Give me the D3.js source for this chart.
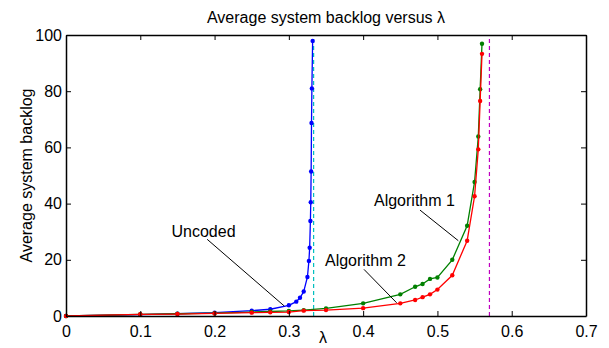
<!DOCTYPE html>
<html>
<head>
<meta charset="utf-8">
<script src="https://cdn.jsdelivr.net/npm/d3@7"></script>
<style>
  body { margin: 0; background: #fff; }
  svg text { font-family: "Liberation Sans", Arial, sans-serif; fill: #000; }
</style>
</head>
<body>
<svg id="chart" width="609" height="348"></svg>
<script>
const width = 609;
const height = 348;
const margin = { top: 35, right: 23, bottom: 32, left: 66 };

// lambda values for each curve
const uncodedX = [0, 0.1, 0.15, 0.2, 0.25, 0.275, 0.3, 0.31, 0.315, 0.32, 0.325, 0.327, 0.328, 0.329, 0.3295, 0.33, 0.3305, 0.331, 0.332];
const uncodedY = [0, 0.5, 0.8, 1.2, 1.9, 2.4, 3.8, 5.1, 6.5, 8.7, 13.9, 19.6, 24.3, 33.8, 40.5, 51.4, 68.7, 81.0, 97.9];

const algX = [0, 0.1, 0.15, 0.2, 0.25, 0.275, 0.3, 0.32, 0.35, 0.4, 0.45, 0.47, 0.48, 0.49, 0.5, 0.52, 0.54, 0.55, 0.555, 0.5575, 0.56];
const alg1Y = [0, 0.6, 0.8, 1.0, 1.4, 1.6, 1.8, 2.1, 2.7, 4.5, 7.7, 10.4, 11.4, 13.2, 13.7, 20.0, 32.1, 47.7, 63.9, 80.7, 96.9];
const alg2Y = [0, 0.6, 0.7, 0.9, 1.2, 1.3, 1.4, 1.9, 2.1, 2.8, 4.5, 5.7, 6.7, 7.7, 9.4, 14.5, 26.8, 42.6, 59.3, 76.5, 93.3];

// capacity limits (dashed verticals)
const limits = [
  { x: 1 / 3, color: "#00bfbf" },
  { x: 0.57, color: "#bf00bf" }
];

const xTicks = [0, 0.1, 0.2, 0.3, 0.4, 0.5, 0.6, 0.7];
const yTicks = [0, 20, 40, 60, 80, 100];

// annotation: text position and leader line, in data units
const notes = [
  { label: "Uncoded", tx: 0.142, ty: 28, x1: 0.19, y1: 27.3, x2: 0.2938, y2: 3.56 },
  { label: "Algorithm 2", tx: 0.3486, ty: 17.8, x1: 0.4011, y1: 16.6, x2: 0.4451, y2: 4.7 },
  { label: "Algorithm 1", tx: 0.4146, ty: 39.3, x1: 0.4765, y1: 37.7, x2: 0.5281, y2: 26.8 }
];

const series = [
  { xs: uncodedX, ys: uncodedY, color: "#0000ff" },
  { xs: algX, ys: alg1Y, color: "#008000" },
  { xs: algX, ys: alg2Y, color: "#ff0000" }
];

const svg = d3.select("#chart");
const x = d3.scaleLinear().domain([0, 0.7]).range([margin.left, width - margin.right]);
const y = d3.scaleLinear().domain([0, 100]).range([height - margin.bottom, margin.top]);
const fontSize = "16px";

// dashed limits
svg.append("g")
  .selectAll("line")
  .data(limits)
  .join("line")
  .attr("x1", d => x(d.x))
  .attr("x2", d => x(d.x))
  .attr("y1", y(0))
  .attr("y2", y(100))
  .attr("stroke", d => d.color)
  .attr("stroke-width", 1.2)
  .attr("stroke-dasharray", "4,3");

// curves
const line = d3.line().x(d => x(d[0])).y(d => y(d[1]));
series.forEach(s => {
  const pts = s.xs.map((v, i) => [v, s.ys[i]]);
  const g = svg.append("g");
  g.append("path")
    .attr("d", line(pts))
    .attr("fill", "none")
    .attr("stroke", s.color)
    .attr("stroke-width", 1.3);
  g.selectAll("circle")
    .data(pts)
    .join("circle")
    .attr("cx", d => x(d[0]))
    .attr("cy", d => y(d[1]))
    .attr("r", 2.2)
    .attr("fill", s.color);
});

// axes box with inward ticks (bottom, left, top, right)
const tickLen = 5;
const axBottom = svg.append("g")
  .attr("transform", `translate(0,${y(0)})`)
  .call(d3.axisBottom(x).tickValues(xTicks).tickSizeInner(-tickLen).tickSizeOuter(0).tickPadding(10).tickFormat(d3.format("")));
const axLeft = svg.append("g")
  .attr("transform", `translate(${x(0)},0)`)
  .call(d3.axisLeft(y).tickValues(yTicks).tickSizeInner(-tickLen).tickSizeOuter(0).tickPadding(4));
const axTop = svg.append("g")
  .attr("transform", `translate(0,${y(100)})`)
  .call(d3.axisTop(x).tickValues(xTicks).tickSizeInner(-tickLen).tickSizeOuter(0).tickFormat(""));
const axRight = svg.append("g")
  .attr("transform", `translate(${x(0.7)},0)`)
  .call(d3.axisRight(y).tickValues(yTicks).tickSizeInner(-tickLen).tickSizeOuter(0).tickFormat(""));

[axBottom, axLeft, axTop, axRight].forEach(a => {
  a.selectAll("path").attr("stroke", "#000").attr("stroke-width", 1.5);
  a.selectAll("line").attr("stroke", "#000");
  a.selectAll("text")
    .attr("font-size", fontSize)
    .attr("font-family", "Liberation Sans, Arial, sans-serif")
    .attr("fill", "#000");
});

// annotations
const ann = svg.append("g");
ann.selectAll("line")
  .data(notes)
  .join("line")
  .attr("x1", d => x(d.x1))
  .attr("y1", d => y(d.y1))
  .attr("x2", d => x(d.x2))
  .attr("y2", d => y(d.y2))
  .attr("stroke", "#000")
  .attr("stroke-width", 1);
ann.selectAll("text")
  .data(notes)
  .join("text")
  .attr("x", d => x(d.tx))
  .attr("y", d => y(d.ty))
  .attr("font-size", fontSize)
  .text(d => d.label);

// title and labels
svg.append("text")
  .attr("x", (x(0) + x(0.7)) / 2)
  .attr("y", 23)
  .attr("text-anchor", "middle")
  .attr("font-size", fontSize)
  .text("Average system backlog versus λ");

svg.append("text")
  .attr("x", (x(0) + x(0.7)) / 2 - 3)
  .attr("y", 343)
  .attr("text-anchor", "middle")
  .attr("font-size", fontSize)
  .text("λ");

svg.append("text")
  .attr("transform", `translate(32,${(y(0) + y(100)) / 2}) rotate(-90)`)
  .attr("text-anchor", "middle")
  .attr("font-size", fontSize)
  .text("Average system backlog");
</script>
</body>
</html>
